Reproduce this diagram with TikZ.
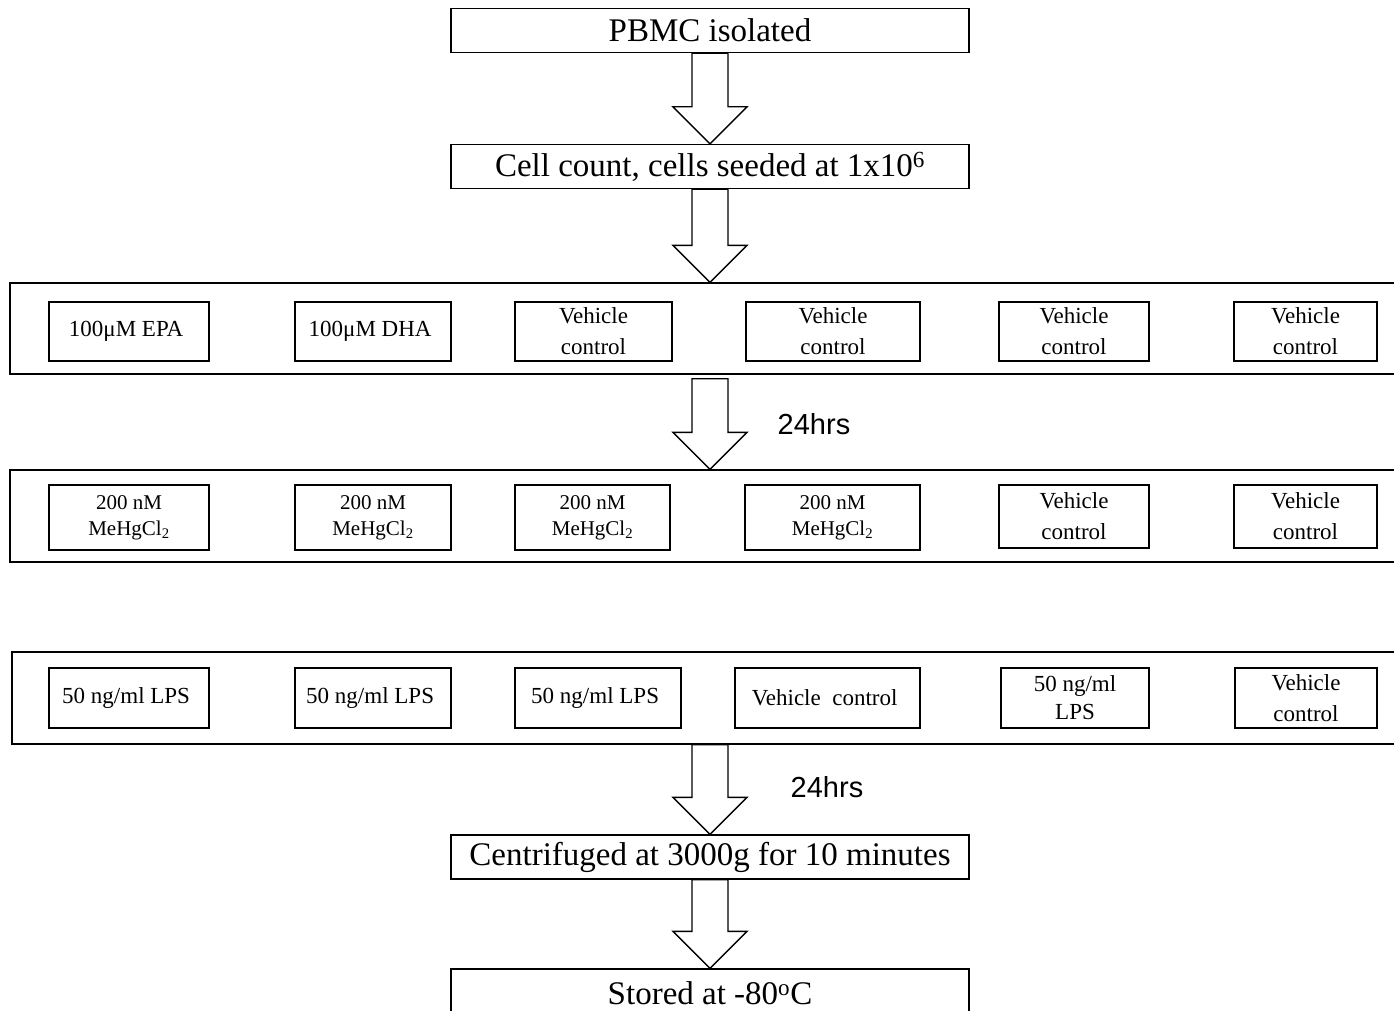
\documentclass[tikz,border=0pt]{standalone}
\usepackage{fontspec}
\setmainfont{Liberation Serif}
\setsansfont{Liberation Sans}
\usetikzlibrary{calc}

\tikzset{
  stepbox/.style={draw, line width=1.4pt, minimum width=518, minimum height=44, inner sep=0pt, font=\fontsize{33}{38}\selectfont},
  groupbox/.style={draw, line width=1.4pt, minimum width=1390, minimum height=91, inner sep=0pt},
  dosebox/.style={draw, line width=1.4pt, inner sep=0pt, align=center, minimum height=59, font=\fontsize{23}{31}\selectfont},
  timelabel/.style={font=\sffamily\fontsize{29}{34}\selectfont},
  flowline/.style={line width=1.4pt, fill=white}
}

% hollow block arrow from #1 down to #2
\newcommand{\blockarrow}[2]{%
  \draw[flowline] ($(#1)+(-18,0)$) -- ($(#2)+(-18,-37)$) -- ($(#2)+(-37,-37)$) -- (#2)
    -- ($(#2)+(37,-37)$) -- ($(#2)+(18,-37)$) -- ($(#1)+(18,0)$) -- cycle;}

\begin{document}
\begin{tikzpicture}[x=1pt,y=-1pt]
  \useasboundingbox (0,0) rectangle (1394,1011);
  \clip (0,0) rectangle (1394,1011);

  \node [stepbox] (pbmc) at (710,30.5) { PBMC isolated };
  \node [stepbox] (count) at (710,166.5) { Cell count, cells seeded at 1x10\textsuperscript{6} };

  % pre-treatment
  \node [groupbox] (pre) at (705,328.5) {};
  \node [dosebox, minimum width=160] (epa) at (129,331.5) { 100μM EPA };
  \node [dosebox, minimum width=156] (dha) at (373,331.5) { 100μM DHA };
  \node [dosebox, minimum width=157] (veha) at (593.5,331.5) { Vehicle\\control };
  \node [dosebox, minimum width=174] (vehb) at (833,331.5) { Vehicle\\control };
  \node [dosebox, minimum width=150] (vehc) at (1074,331.5) { Vehicle\\control };
  \node [dosebox, minimum width=143] (vehd) at (1305.5,331.5) { Vehicle\\control };

  % mercury
  \node [groupbox, minimum height=92] (mer) at (705,516) {};
  \node [dosebox, minimum width=160, minimum height=65, font=\fontsize{21}{26}\selectfont] (mera) at (129,517.5) { 200 nM\\MeHgCl\textsubscript{2} };
  \node [dosebox, minimum width=156, minimum height=65, font=\fontsize{21}{26}\selectfont] (merb) at (373,517.5) { 200 nM\\MeHgCl\textsubscript{2} };
  \node [dosebox, minimum width=155, minimum height=65, font=\fontsize{21}{26}\selectfont] (merc) at (592.5,517.5) { 200 nM\\MeHgCl\textsubscript{2} };
  \node [dosebox, minimum width=175, minimum height=65, font=\fontsize{21}{26}\selectfont] (merd) at (832.5,517.5) { 200 nM\\MeHgCl\textsubscript{2} };
  \node [dosebox, minimum width=150, minimum height=63] (vehe) at (1074,516.5) { Vehicle\\control };
  \node [dosebox, minimum width=143, minimum height=63] (vehf) at (1305.5,516.5) { Vehicle\\control };

  % stimulation
  \node [groupbox, minimum width=1388, minimum height=92] (lps) at (706,698) {};
  \node [dosebox, minimum width=160, minimum height=60] (lpsa) at (129,698) { 50 ng/ml LPS };
  \node [dosebox, minimum width=156, minimum height=60] (lpsb) at (373,698) { 50 ng/ml LPS };
  \node [dosebox, minimum width=166, minimum height=60] (lpsc) at (598,698) { 50 ng/ml LPS };
  \node [dosebox, minimum width=185, minimum height=60] (vehg) at (827.5,698) { Vehicle\ \ control };
  \node [dosebox, minimum width=148, minimum height=60, font=\fontsize{23}{28}\selectfont] (lpsd) at (1075,698) { 50 ng/ml\\LPS };
  \node [dosebox, minimum width=142, minimum height=60] (vehh) at (1306,698) { Vehicle\\control };

  \node [stepbox] (spin) at (710,857) { Centrifuged at 3000g for 10 minutes };
  \node [stepbox, minimum height=48] (store) at (710,993) { Stored at -80\textsuperscript{o}C };

  \node [timelabel] (timea) at (814,424) { 24hrs };
  \node [timelabel] (timeb) at (827,787) { 24hrs };

  \coordinate (gapa) at ([yshift=-4pt]pre.south -| count.south);

  \blockarrow{pbmc.south}{count.north}
  \blockarrow{count.south}{count.south |- pre.north}
  \blockarrow{gapa}{gapa |- mer.north}
  \blockarrow{spin.north |- lps.south}{spin.north}
  \blockarrow{spin.south}{store.north}
\end{tikzpicture}
\end{document}
